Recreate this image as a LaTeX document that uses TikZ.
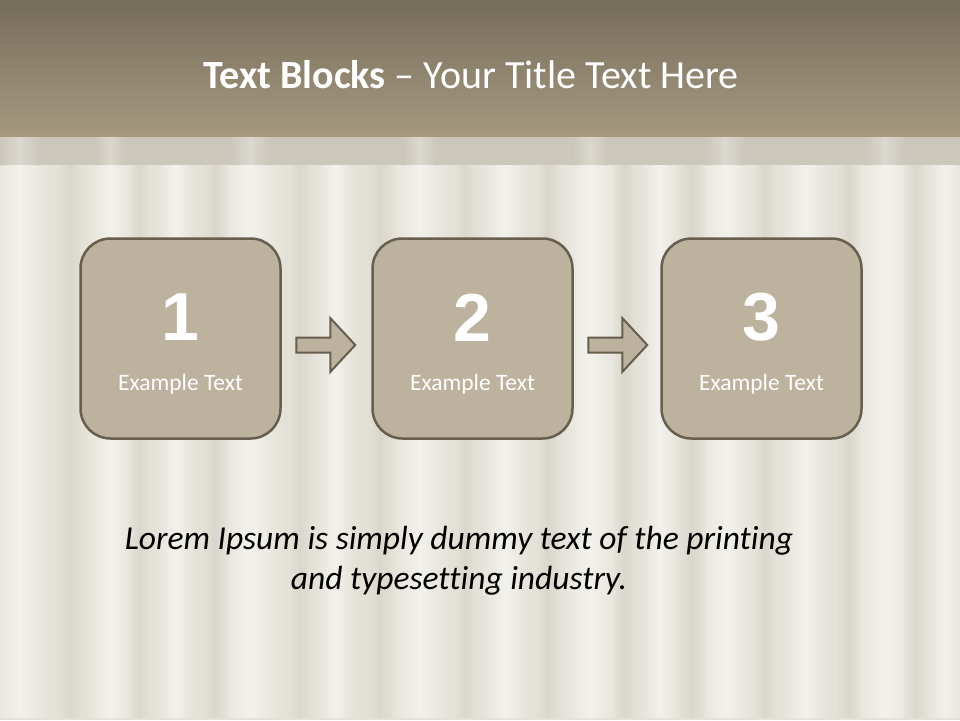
\documentclass[tikz,border=0pt]{standalone}
\usepackage{fontspec}
\setmainfont{Carlito}[Ligatures=NoCommon]
\newfontfamily\numfont{Liberation Sans}
\usetikzlibrary{calc}
\definecolor{bgbase}{RGB}{228,225,216}
\definecolor{bgstripe}{RGB}{242,241,236}
\definecolor{bgdark}{RGB}{212,208,198}
\definecolor{bartop}{RGB}{118,109,90}
\definecolor{barbot}{RGB}{166,153,128}
\definecolor{band}{RGB}{204,199,187}
\definecolor{boxfill}{RGB}{188,178,158}
\definecolor{boxline}{RGB}{104,94,78}
\tikzset{
  stepbox/.style={draw=boxline, line width=2.5pt, fill=boxfill, rounded corners=30pt,
    minimum width=200pt, minimum height=200pt, inner sep=0pt},
  blockarrow/.style={draw=boxline, line width=2pt, fill=boxfill, line join=miter},
  numtext/.style={text=white, font=\numfont\bfseries\fontsize{68}{68}\selectfont},
  smalltext/.style={text=white, font=\fontsize{23.5}{26}\selectfont},
}
\begin{document}
\begin{tikzpicture}[x=1pt,y=-1pt]
\useasboundingbox (0,0) rectangle (960,720);
\begin{scope}
\clip (0,0) rectangle (960,718);
% background
\fill[bgbase] (0,0) rectangle (960,720);
\foreach \x/\w in {20/60,110/50,175/40,250/70,335/40,420/60,505/50,590/60,660/40,725/60,805/50,885/70,945/40}{
  \shade[left color=bgbase, right color=bgbase, middle color=bgstripe] (\x-\w/2,165) rectangle (\x+\w/2,718);
}
\foreach \x/\w in {70/24,140/20,215/26,300/22,380/28,465/20,548/24,625/22,692/26,765/20,848/24,915/22}{
  \shade[left color=bgbase, right color=bgbase, middle color=bgdark, opacity=0.6] (\x-\w/2,165) rectangle (\x+\w/2,718);
}
% title bar
\shade[top color=bartop, bottom color=barbot] (0,0) rectangle (960,137);
\fill[band] (0,137) rectangle (960,165);
\foreach \x/\w in {20/40,110/30,250/40,420/35,590/35,725/40,885/40}{
  \shade[left color=band, right color=band, middle color=white, opacity=0.3] (\x-\w/2,137) rectangle (\x+\w/2,165);
}
\end{scope}
\fill[bgbase] (0,717.5) rectangle (960,720);
\node (title) at (471,75) {\color{white}\fontsize{40}{44}\selectfont\textbf{Text Blocks} -- Your Title Text Here};
% boxes
\node[stepbox] (b1) at (180.5,338.5) {};
\node[stepbox] (b2) at (472.5,338.5) {};
\node[stepbox] (b3) at (761.5,338.5) {};
\foreach \b/\n in {b1/1,b2/2,b3/3}{
  \node[numtext] (n\b) at ($(\b.center)+(0,-21)$) {\n};
  \node[smalltext] (t\b) at ($(\b.center)+(0,46)$) {Example Text};
}
% arrows
\foreach \a/\c in {b1/b2,b2/b3}{
  \coordinate (s\a) at ($(\a.east)+(14.5,6.5)$);
  \draw[blockarrow] ($(s\a)+(0,-7.5)$) -- ++(34,0) -- ++(0,-19.5) -- ++(25,27) -- ++(-25,27) -- ++(0,-19.5) -- ++(-34,0) -- cycle;
}
% lorem
\node[align=center, font=\itshape\fontsize{33.5}{40}\selectfont] (lorem) at (459,561) {Lorem Ipsum is simply dummy text of the printing\\and typesetting industry.};
\end{tikzpicture}
\end{document}
